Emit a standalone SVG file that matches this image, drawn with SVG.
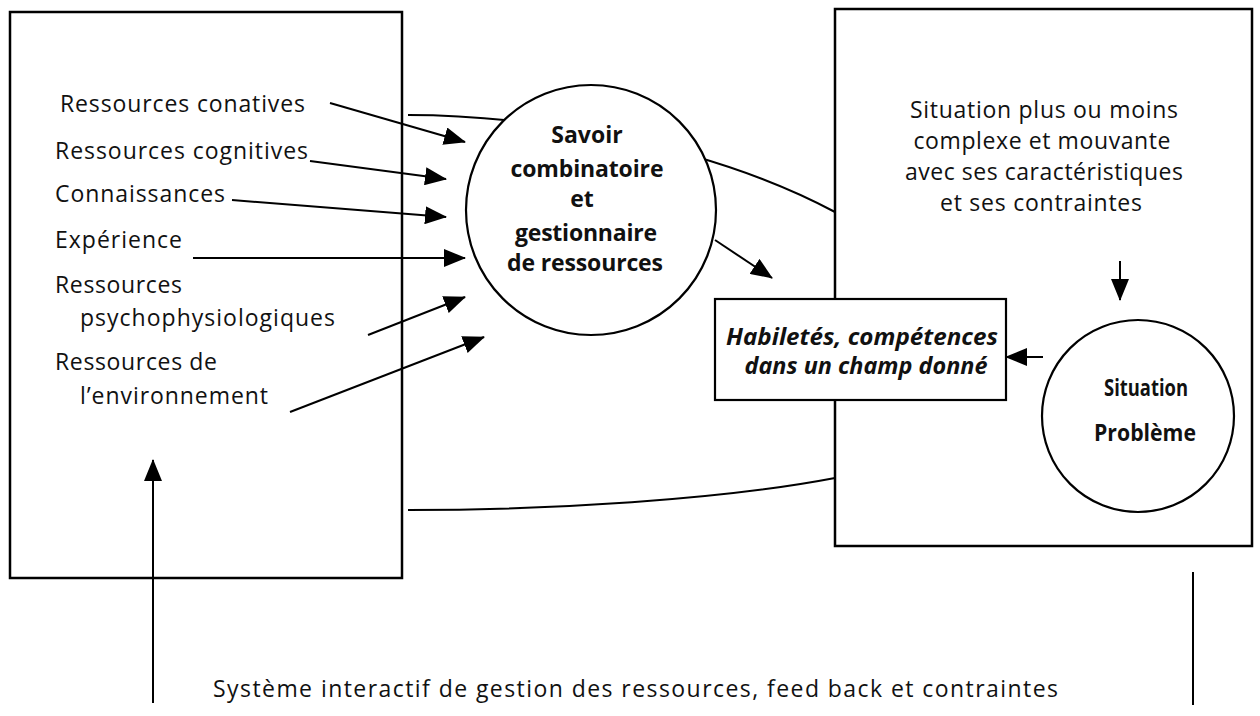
<svg xmlns="http://www.w3.org/2000/svg" width="1260" height="716" viewBox="0 0 1260 716">
  <style>
    .frame { fill: #ffffff; stroke: #000000; stroke-width: 2.5; }
    .node { fill: #ffffff; stroke: #000000; stroke-width: 2.2; }
    .wire { fill: none; stroke: #000000; stroke-width: 2; }
    .txt { font-family: "Open Sans", "Noto Sans", "DejaVu Sans", sans-serif; font-size: 23px; fill: #111111; }
    .bold { font-weight: bold; }
    .ital { font-style: italic; }
    .mid { text-anchor: middle; }
  </style>
  <defs>
    <marker id="arrow" viewBox="0 0 22 18" refX="21" refY="9" markerWidth="22" markerHeight="18" markerUnits="userSpaceOnUse" orient="auto">
      <path d="M0,0 L22,9 L0,18 z" fill="#000000"/>
    </marker>
  </defs>

  <rect width="1260" height="716" fill="#ffffff"/>

  <!-- Left frame: the resources -->
  <g id="resources">
    <rect class="frame" x="10" y="12" width="392" height="566"/>
    <text class="txt" x="60" y="112" textLength="245">Ressources conatives</text>
    <text class="txt" x="55" y="159" textLength="253">Ressources cognitives</text>
    <text class="txt" x="55" y="202" textLength="170">Connaissances</text>
    <text class="txt" x="55" y="248" textLength="127">Expérience</text>
    <text class="txt" x="55" y="293" textLength="127">Ressources</text>
    <text class="txt" x="80" y="326" textLength="255">psychophysiologiques</text>
    <text class="txt" x="55" y="370" textLength="162">Ressources de</text>
    <text class="txt" x="80" y="404" textLength="188">l’environnement</text>
  </g>

  <!-- Right frame: the situation -->
  <g id="situation">
    <rect class="frame" x="835" y="9" width="417" height="537"/>
    <text class="txt mid" x="1044" y="118" textLength="268">Situation plus ou moins</text>
    <text class="txt mid" x="1042" y="149" textLength="257">complexe et mouvante</text>
    <text class="txt mid" x="1044" y="180" textLength="278">avec ses caractéristiques</text>
    <text class="txt mid" x="1041" y="211" textLength="202">et ses contraintes</text>
  </g>

  <!-- Connectors -->
  <g id="connectors">
    <path class="wire" d="M408,115 C520,115 700,140 835,212"/>
    <path class="wire" d="M408,510 C550,510 720,500 835,478"/>
    <line class="wire" x1="330" y1="103" x2="465" y2="142" marker-end="url(#arrow)"/>
    <line class="wire" x1="310" y1="161" x2="446" y2="179" marker-end="url(#arrow)"/>
    <line class="wire" x1="232" y1="200" x2="446" y2="217" marker-end="url(#arrow)"/>
    <line class="wire" x1="193" y1="258" x2="465" y2="258" marker-end="url(#arrow)"/>
    <line class="wire" x1="368" y1="335" x2="465" y2="297" marker-end="url(#arrow)"/>
    <line class="wire" x1="290" y1="412" x2="484" y2="337" marker-end="url(#arrow)"/>
    <line class="wire" x1="715" y1="240" x2="772" y2="278" marker-end="url(#arrow)"/>
    <line class="wire" x1="1120" y1="261" x2="1120" y2="300" marker-end="url(#arrow)"/>
    <line class="wire" x1="1043" y1="357" x2="1006" y2="357" marker-end="url(#arrow)"/>
    <line class="wire" x1="153" y1="703" x2="153" y2="460" marker-end="url(#arrow)"/>
    <line class="wire" x1="1193" y1="572" x2="1193" y2="705"/>
  </g>

  <!-- Combining knowledge -->
  <g id="savoir">
    <circle class="node" cx="591" cy="210" r="125"/>
    <text class="txt bold mid" x="587" y="143">Savoir</text>
    <text class="txt bold mid" x="587" y="177" textLength="153">combinatoire</text>
    <text class="txt bold mid" x="582" y="207">et</text>
    <text class="txt bold mid" x="586" y="241" textLength="142">gestionnaire</text>
    <text class="txt bold mid" x="585" y="271" textLength="156">de ressources</text>
  </g>

  <!-- Skills -->
  <g id="habiletes">
    <rect class="node" x="715" y="299" width="291" height="101"/>
    <text class="txt bold ital mid" x="862" y="345" textLength="272" lengthAdjust="spacingAndGlyphs">Habiletés, compétences</text>
    <text class="txt bold ital mid" x="866" y="374" textLength="243" lengthAdjust="spacingAndGlyphs">dans un champ donné</text>
  </g>

  <!-- Problem situation -->
  <g id="probleme">
    <circle class="node" cx="1138" cy="416" r="96"/>
    <text class="txt bold mid" x="1146" y="396" font-size="24" textLength="84" lengthAdjust="spacingAndGlyphs">Situation</text>
    <text class="txt bold mid" x="1145" y="441" font-size="24" textLength="102" lengthAdjust="spacingAndGlyphs">Problème</text>
  </g>

  <!-- Caption -->
  <g id="caption">
    <text class="txt" x="213" y="697" font-size="24" textLength="845">Système interactif de gestion des ressources, feed back et contraintes</text>
  </g>
</svg>
